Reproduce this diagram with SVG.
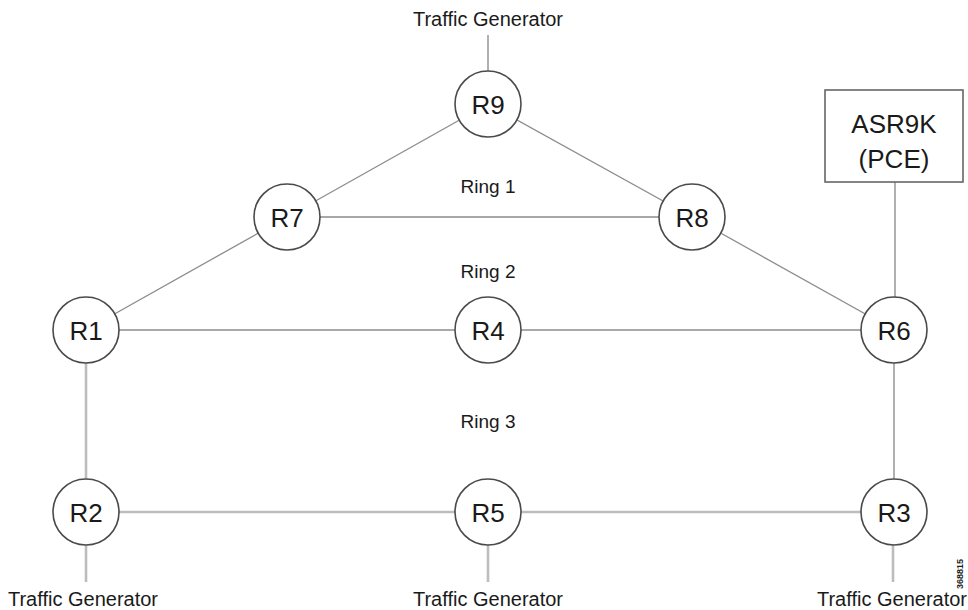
<svg xmlns="http://www.w3.org/2000/svg" width="968" height="610" viewBox="0 0 968 610">
<style>
text{font-family:"Liberation Sans",Arial,sans-serif;fill:#1a1a1a;text-anchor:middle}
.lbl{font-size:20px}
.ring{font-size:19px}
.rn{font-size:26px}
.node circle{fill:#fff;stroke:#4a4a4a;stroke-width:1.6}
.thin{stroke:#8c8c8c;stroke-width:1.3;fill:none}
.thick{stroke:#bdbdbd;stroke-width:2.6;fill:none}
.mid{stroke:#a8a8a8;stroke-width:1.8;fill:none}
</style>
<rect width="968" height="610" fill="#fff"/>
<g id="connectors">
  <line class="mid" x1="488" y1="35" x2="488" y2="72"/>
  <line class="thin" x1="488" y1="104" x2="287" y2="217"/>
  <line class="thin" x1="488" y1="104" x2="692" y2="217"/>
  <line class="mid" x1="287" y1="217" x2="692" y2="217"/>
  <line class="thin" x1="287" y1="217" x2="86" y2="330"/>
  <line class="thin" x1="692" y1="217" x2="894" y2="330"/>
  <line class="thin" x1="86" y1="330" x2="894" y2="330"/>
  <line class="mid" x1="895" y1="182" x2="895" y2="300"/>
  <line class="thick" x1="86" y1="330" x2="86" y2="512"/>
  <line class="mid" x1="894" y1="330" x2="894" y2="512"/>
  <line class="thick" x1="86" y1="512" x2="894" y2="512"/>
  <line class="thick" x1="86" y1="545" x2="86" y2="582"/>
  <line class="thick" x1="488" y1="545" x2="488" y2="582"/>
  <line class="thick" x1="893" y1="545" x2="893" y2="582"/>
</g>
<g id="R9" class="node"><circle cx="488" cy="104" r="33"/><text class="rn" x="488" y="114">R9</text></g>
<g id="R7" class="node"><circle cx="287" cy="217" r="33"/><text class="rn" x="287" y="227">R7</text></g>
<g id="R8" class="node"><circle cx="692" cy="217" r="33"/><text class="rn" x="692" y="227">R8</text></g>
<g id="R1" class="node"><circle cx="86" cy="330" r="33"/><text class="rn" x="86" y="340">R1</text></g>
<g id="R4" class="node"><circle cx="488" cy="330" r="33"/><text class="rn" x="488" y="340">R4</text></g>
<g id="R6" class="node"><circle cx="894" cy="330" r="33"/><text class="rn" x="894" y="340">R6</text></g>
<g id="R2" class="node"><circle cx="86" cy="512" r="33"/><text class="rn" x="86" y="522">R2</text></g>
<g id="R5" class="node"><circle cx="488" cy="512" r="33"/><text class="rn" x="488" y="522">R5</text></g>
<g id="R3" class="node"><circle cx="894" cy="512" r="33"/><text class="rn" x="894" y="522">R3</text></g>
<g id="PCE"><rect x="825" y="90" width="138" height="92" fill="#fff" stroke="#666" stroke-width="1.6"/>
  <text x="894" y="133" style="font-size:26px">ASR9K</text>
  <text x="894" y="168" style="font-size:26px">(PCE)</text></g>
<g id="labels">
  <text class="lbl" x="488" y="26">Traffic Generator</text>
  <text class="lbl" x="83" y="606">Traffic Generator</text>
  <text class="lbl" x="488" y="606">Traffic Generator</text>
  <text class="lbl" x="892" y="606">Traffic Generator</text>
  <text class="ring" x="488" y="193">Ring 1</text>
  <text class="ring" x="488" y="278">Ring 2</text>
  <text class="ring" x="488" y="428">Ring 3</text>
  <text x="963" y="574" transform="rotate(-90 963 574)" style="font-size:9px;font-weight:bold">368815</text>
</g>
</svg>
